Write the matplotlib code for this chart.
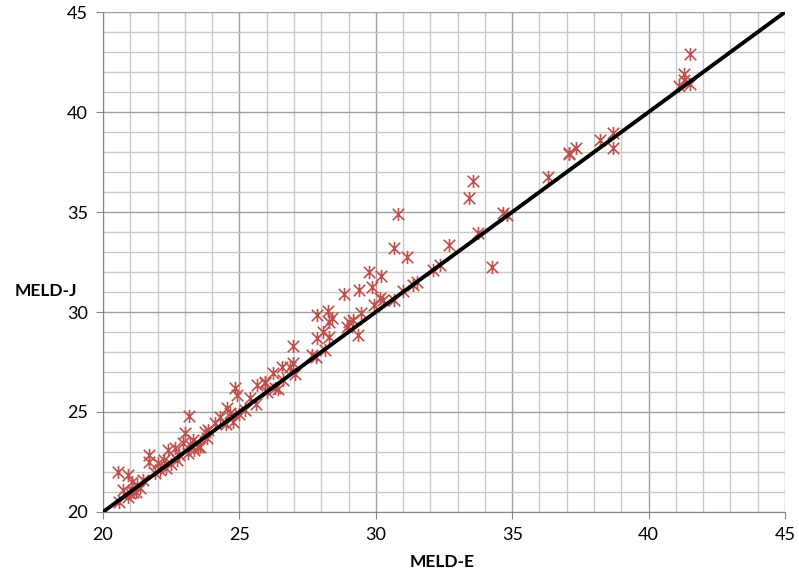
import matplotlib
matplotlib.use("Agg")
import matplotlib.pyplot as plt
from matplotlib.path import Path
from matplotlib.ticker import MultipleLocator

# MELD-E (x) vs MELD-J (y)
meld_e = [41.5, 41.3, 41.1, 41.3, 41.5, 38.7, 38.7, 38.2, 37.1, 37.35,
          36.3, 33.55, 33.4, 34.65, 34.8, 33.75, 32.7, 32.35, 34.25, 32.1,
          30.65, 31.15, 30.8, 29.75, 30.2, 28.85, 29.4, 29.85, 31.0, 31.35,
          31.5, 30.15, 30.25, 30.65, 29.95, 29.45, 29.0, 28.95, 29.15, 29.35,
          27.85, 28.25, 28.3, 28.4, 28.05, 27.85, 28.3, 26.95, 27.65, 28.15,
          26.95, 26.55, 26.25, 27.05, 25.95, 26.4, 26.0, 26.85, 27.8,
          23.15, 24.85, 24.9, 25.65, 25.95, 25.4, 24.55, 24.65, 24.3, 24.75,
          24.1, 23.85, 23.75, 23.0, 23.3, 23.5, 22.95, 23.35,
          20.55, 20.9, 21.7, 21.7, 22.0, 22.4, 22.65, 22.25, 23.2, 23.55,
          21.05, 21.25, 20.75, 20.9, 20.6, 21.1, 21.35, 21.45, 21.9, 22.1,
          22.7, 22.8, 23.1, 21.0, 21.2, 22.3, 22.5, 23.8, 24.5, 25.0,
          25.2, 25.6, 26.3, 26.6, 37.1]
meld_j = [42.9, 41.9, 41.3, 41.6, 41.4, 38.95, 38.2, 38.6, 37.95, 38.2,
          36.75, 36.55, 35.7, 34.95, 34.85, 33.95, 33.35, 32.35, 32.25, 32.1,
          33.2, 32.75, 34.9, 32.0, 31.8, 30.9, 31.1, 31.25, 31.05, 31.35,
          31.5, 30.7, 30.6, 30.6, 30.35, 29.95, 29.5, 29.25, 29.6, 28.85,
          29.85, 30.05, 29.5, 29.7, 29.0, 28.7, 28.75, 28.3, 27.85, 28.1,
          27.45, 27.25, 26.95, 26.9, 26.5, 26.15, 26.0, 27.25, 27.75,
          24.8, 26.2, 25.85, 26.35, 26.45, 25.7, 25.2, 24.95, 24.75, 24.5,
          24.45, 24.1, 24.0, 23.95, 23.6, 23.25, 23.45, 23.1,
          22.0, 21.85, 22.85, 22.5, 22.45, 23.1, 23.2, 22.6, 23.35, 23.25,
          21.5, 21.35, 21.1, 20.75, 20.5, 21.0, 21.2, 21.6, 21.95, 22.1,
          22.6, 22.85, 22.95, 20.95, 21.0, 22.2, 22.4, 23.7, 24.4, 24.9,
          25.1, 25.4, 26.2, 26.6, 37.9]

axis_min, axis_max = 20, 45
ticks = [20, 25, 30, 35, 40, 45]

plt.rcParams['font.family'] = ['Lato', 'DejaVu Sans']

# Excel-style "star" marker: an x with a vertical bar through it
star = Path([(-1, -1), (1, 1), (-1, 1), (1, -1), (0, -1.15), (0, 1.15)],
            [Path.MOVETO, Path.LINETO, Path.MOVETO, Path.LINETO,
             Path.MOVETO, Path.LINETO])

fig = plt.figure(figsize=(7.99, 5.75), dpi=100)
ax = fig.add_axes([0.1289, 0.1096, 0.8536, 0.8694])

ax.plot(meld_e, meld_j, linestyle='none', marker=star, markersize=9.5,
        markeredgewidth=1.2, color='#C0504D', zorder=3)
ax.plot([axis_min, axis_max], [axis_min, axis_max], color='black',
        linewidth=2.8, zorder=4, solid_capstyle='butt')

ax.set_xlim(axis_min, axis_max)
ax.set_ylim(axis_min, axis_max)
ax.set_xticks(ticks)
ax.set_yticks(ticks)
ax.xaxis.set_minor_locator(MultipleLocator(1))
ax.yaxis.set_minor_locator(MultipleLocator(1))
ax.grid(which='minor', color='#C8C8C8', linewidth=1.0, zorder=0)
ax.grid(which='major', color='#A0A0A0', linewidth=1.0, zorder=0)
ax.set_axisbelow(True)
ax.tick_params(which='minor', length=0)
ax.tick_params(which='major', length=5, color='#868686', labelsize=13, pad=6)

for side in ['top', 'right']:
    ax.spines[side].set_visible(False)
for side in ['left', 'bottom']:
    ax.spines[side].set_color('#868686')

fig.text(0.553, 0.008, 'MELD-E', fontweight='bold', fontsize=12.5,
         ha='center', va='bottom')
fig.text(0.057, 0.494, 'MELD-J', fontweight='bold', fontsize=12.5,
         ha='center', va='center')

fig.savefig('out.png', dpi=100)
